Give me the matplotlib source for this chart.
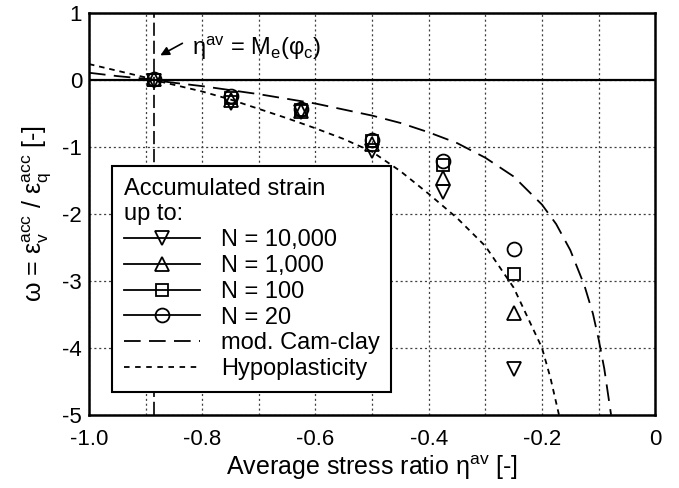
import matplotlib
matplotlib.use("Agg")
import matplotlib.pyplot as plt
from matplotlib.lines import Line2D
from matplotlib.ticker import MultipleLocator, FixedLocator

plt.rcParams["font.family"] = ["Liberation Sans", "DejaVu Sans"]
plt.rcParams["mathtext.fontset"] = "custom"
plt.rcParams["mathtext.rm"] = "Liberation Sans"
plt.rcParams["mathtext.it"] = "Liberation Sans:italic"
plt.rcParams["axes.unicode_minus"] = False
plt.rcParams["lines.scale_dashes"] = False

# Measured average stress ratios
eta_tests = [-0.885, -0.75, -0.625, -0.5, -0.375, -0.25]

# Accumulated strain ratio omega for each number of cycles
omega_n10000 = [-0.01, -0.34, -0.48, -1.06, -1.67, -4.32]
omega_n1000 = [0.01, -0.29, -0.46, -0.95, -1.46, -3.48]
omega_n100 = [0.0, -0.26, -0.44, -0.91, -1.27, -2.90]
omega_n20 = [0.02, -0.23, -0.43, -0.90, -1.21, -2.52]

# Model predictions
eta_camclay = [-1.0, -0.95, -0.9, -0.885, -0.85, -0.8, -0.75, -0.7, -0.65, -0.6,
               -0.55, -0.5, -0.45, -0.4, -0.35, -0.3, -0.25, -0.2, -0.175,
               -0.15, -0.125, -0.11, -0.1, -0.09, -0.078]
omega_camclay = [0.11, 0.06, 0.02, 0.0, -0.04, -0.09, -0.15, -0.21, -0.28, -0.35,
                 -0.44, -0.53, -0.64, -0.78, -0.94, -1.16, -1.44, -1.86, -2.15,
                 -2.54, -3.07, -3.49, -3.87, -4.31, -5.0]

eta_hypo = [-1.0, -0.95, -0.9, -0.885, -0.85, -0.8, -0.75, -0.7, -0.65, -0.6,
            -0.55, -0.5, -0.45, -0.4, -0.35, -0.3, -0.25, -0.2, -0.185, -0.17]
omega_hypo = [0.24, 0.14, 0.04, 0.0, -0.07, -0.17, -0.29, -0.43, -0.57, -0.72,
              -0.88, -1.07, -1.36, -1.70, -2.06, -2.48, -3.10, -4.00, -4.45, -5.0]

eta_critical = -0.885

x_ticks = [-1.0, -0.8, -0.6, -0.4, -0.2, 0.0]
x_tick_labels = ["-1.0", "-0.8", "-0.6", "-0.4", "-0.2", "0"]
y_ticks = [1, 0, -1, -2, -3, -4, -5]
y_tick_labels = ["1", "0", "-1", "-2", "-3", "-4", "-5"]

fig = plt.figure(figsize=(6.79, 4.88), dpi=100)
ax = fig.add_axes([0.131, 0.150, 0.834, 0.823])

ax.set_xlim(-1.0, 0.0)
ax.set_ylim(-5, 1)

ax.xaxis.set_major_locator(FixedLocator(x_ticks))
ax.set_xticklabels(x_tick_labels)
ax.xaxis.set_minor_locator(MultipleLocator(0.1))
ax.set_yticks(y_ticks)
ax.set_yticklabels(y_tick_labels)
ax.tick_params(which="both", length=0, labelsize=16)
ax.tick_params(axis="x", pad=10)
ax.tick_params(axis="y", pad=5)
ax.grid(True, which="both", linestyle=(0, (1.5, 2.0)), color="0.25", linewidth=0.9)
ax.set_axisbelow(True)

for sp in ax.spines.values():
    sp.set_linewidth(1.8)

# Zero line and critical stress ratio
ax.axhline(0, color="black", linewidth=1.6, zorder=2)
ax.axvline(eta_critical, color="black", linewidth=1.2, dashes=(9.5, 3.5), zorder=2)

camclay_dashes = (12, 6)
hypo_dashes = (4, 3.5)
ax.plot(eta_camclay, omega_camclay, color="black", linewidth=1.3,
        dashes=camclay_dashes, zorder=3)
ax.plot(eta_hypo, omega_hypo, color="black", linewidth=1.3,
        dashes=hypo_dashes, zorder=3)

mk = dict(linestyle="none", markerfacecolor="none", markeredgecolor="black",
          markeredgewidth=1.3, markersize=10, zorder=4)
ax.plot(eta_tests, omega_n20, marker="o", **mk)
ax.plot(eta_tests, omega_n100, marker="s", **dict(mk, markersize=9))
ax.plot(eta_tests, omega_n1000, marker="^", **mk)
ax.plot(eta_tests, omega_n10000, marker="v", **mk)

# Label for the critical stress ratio line
ax.annotate("", xy=(-0.874, 0.37), xytext=(-0.835, 0.55),
            arrowprops=dict(arrowstyle="-|>", color="black", linewidth=1.2,
                            mutation_scale=13, shrinkA=0, shrinkB=0))
ax.text(-0.818, 0.48,
        "η$^{\\mathregular{av}}$ = M$_{\\mathregular{e}}$(φ$_{\\mathregular{c}}$)",
        fontsize=17, va="center", ha="left")

ax.set_xlabel("Average stress ratio η$^{\\mathregular{av}}$ [-]", fontsize=18, labelpad=3)
ax.set_ylabel("ω = ε$_{\\mathregular{v}}^{\\mathregular{acc}}$ / ε$_{\\mathregular{q}}^{\\mathregular{acc}}$ [-]",
              fontsize=18, labelpad=6)

lmk = dict(color="black", linewidth=1.3, markerfacecolor="none",
           markeredgecolor="black", markeredgewidth=1.3, markersize=10)
handles = [
    Line2D([], [], marker="v", **lmk),
    Line2D([], [], marker="^", **lmk),
    Line2D([], [], marker="s", **dict(lmk, markersize=9)),
    Line2D([], [], marker="o", **lmk),
    Line2D([], [], color="black", linewidth=1.3, dashes=camclay_dashes),
    Line2D([], [], color="black", linewidth=1.3, dashes=(4, 4)),
]
labels = ["N = 10,000", "N = 1,000", "N = 100", "N = 20",
          "mod. Cam-clay", "Hypoplasticity"]
leg = ax.legend(handles, labels, title="Accumulated strain\nup to:",
                loc="lower left", bbox_to_anchor=(0.041, 0.057),
                borderaxespad=0, fontsize=17, title_fontsize=17,
                fancybox=False, framealpha=1, edgecolor="black",
                handlelength=3.2, handletextpad=0.9, labelspacing=0.16,
                borderpad=0.5, alignment="left")
leg.get_frame().set_linewidth(1.5)
leg.set_zorder(5)

fig.savefig("out.png", dpi=100)
